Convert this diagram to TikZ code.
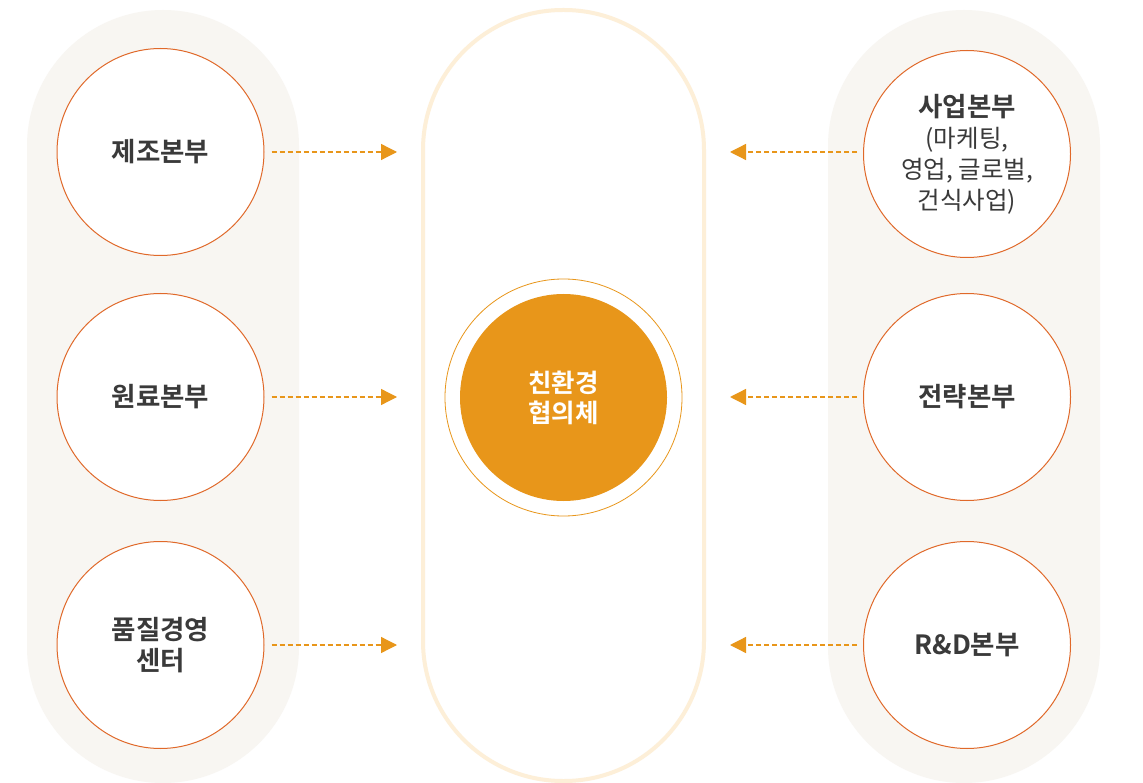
\documentclass[tikz,border=0pt]{standalone}
\usepackage{fontspec}
\setmainfont{Noto Sans CJK KR}
\newfontfamily\krbold{Noto Sans CJK KR Bold}
\newfontfamily\krreg{Noto Sans CJK KR}
\usetikzlibrary{arrows.meta}
\definecolor{pillbg}{HTML}{F8F6F2}
\definecolor{pillline}{HTML}{FDEFD8}
\definecolor{ring}{HTML}{E0692A}
\definecolor{core}{HTML}{E8961A}
\definecolor{txt}{HTML}{3A3A3A}
\tikzset{
  unit/.style={circle, draw=ring, line width=1pt, fill=white, minimum size=207pt, inner sep=0pt,
    align=center, text=txt, font=\krbold\fontsize{26.5}{31}\selectfont},
  link/.style={draw=core, line width=1.3pt, dash pattern=on 5pt off 3pt,
    -{Triangle[length=16pt,width=16pt,fill=core]}},
}
\newcommand{\subline}[1]{{\krreg\fontsize{24.5}{31}\selectfont #1}}
\begin{document}
\begin{tikzpicture}[x=1pt,y=-1pt]
\useasboundingbox (0,0) rectangle (1143,783);
\fill[white] (0,0) rectangle (1143,783);
% side pills
\fill[pillbg, rounded corners=136pt] (27,10) rectangle (299,783);
\fill[pillbg, rounded corners=136pt] (828,10) rectangle (1100,783);
% centre pill
\draw[pillline, line width=4pt, rounded corners=140pt] (423,10) rectangle (704,781);
% centre circle
\node[circle, draw=core, line width=0.8pt, minimum size=237pt, inner sep=0pt] (ring) at (563.5,397.5) {};
\node[circle, fill=core, minimum size=207pt, inner sep=0pt, align=center, text=white,
  font=\krbold\fontsize{25.5}{30}\selectfont] (core) at (563.5,397.5) {친환경\\협의체};
% left units
\node[unit] (m) at (160.5,152) {제조본부};
\node[unit] (r) at (160.5,397) {원료본부};
\node[unit] (q) at (160.5,645) {품질경영\\센터};
% right units
\node[unit] (b) at (967,154) {사업본부\\\subline{(마케팅,}\\\subline{영업, 글로벌,}\\\subline{건식사업)}};
\node[unit] (s) at (967,397) {전략본부};
\node[unit] (d) at (967,645) {R\&D본부};
% targets
\coordinate (tl1) at (397,152);
\coordinate (tl2) at (397,397);
\coordinate (tl3) at (397,645);
\coordinate (tr1) at (730,152);
\coordinate (tr2) at (730,397);
\coordinate (tr3) at (730,645);
\draw[link] ([xshift=7pt]m.east) -- (tl1);
\draw[link] ([xshift=7pt]r.east) -- (tl2);
\draw[link] ([xshift=7pt]q.east) -- (tl3);
\draw[link] ([xshift=-6pt]b.west |- tr1) -- (tr1);
\draw[link] ([xshift=-6pt]s.west) -- (tr2);
\draw[link] ([xshift=-6pt]d.west) -- (tr3);
\end{tikzpicture}
\end{document}
